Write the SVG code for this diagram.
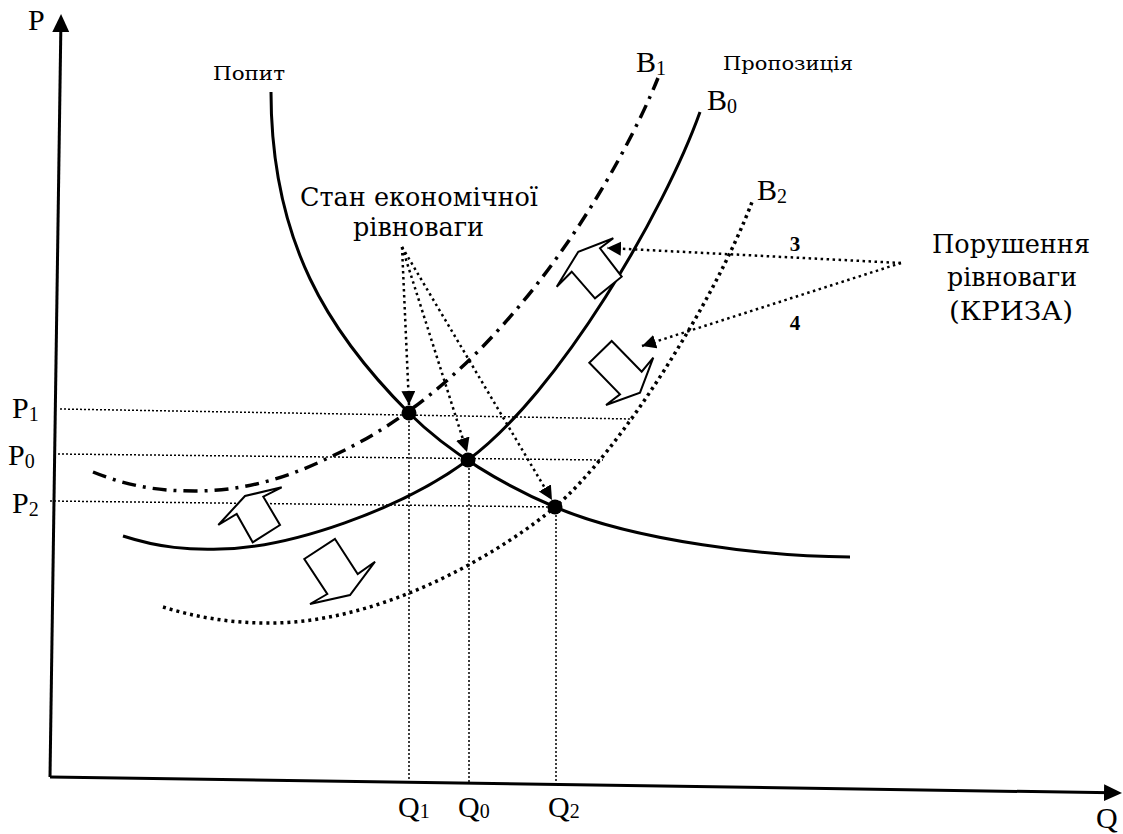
<svg xmlns="http://www.w3.org/2000/svg" width="1123" height="834" viewBox="0 0 1123 834">
<style>
text{font-family:"Liberation Serif","Times New Roman",serif;fill:#000}
.cyr{font-family:"DejaVu Serif","Liberation Serif",serif}
.big{font-size:30px}
.cbig{font-size:26px}
.lbl{font-size:19px}
.sub{font-size:20px}
.num{font-size:21px;font-weight:bold}
.axis{stroke:#000;stroke-width:3;fill:none}
.guide{stroke:#000;stroke-width:1.5;stroke-dasharray:2 2;fill:none}
.ann{stroke:#000;stroke-width:2.5;stroke-dasharray:2.5 3.5;fill:none}
.solid{stroke:#000;stroke-width:3;fill:none}
.dashdot{stroke:#000;stroke-width:3.5;stroke-dasharray:14 7 3 7;fill:none}
.dotted{stroke:#000;stroke-width:3.5;stroke-dasharray:3 4;fill:none}
.block{fill:#fff;stroke:#000;stroke-width:2;stroke-linejoin:miter}
.dot{fill:#000}
</style>
<defs>
<marker id="ah" markerWidth="15" markerHeight="15" refX="14" refY="7" orient="auto" markerUnits="userSpaceOnUse"><path d="M0,0 L14,7 L0,14 z" fill="#000"/></marker>
<marker id="axh" markerWidth="20" markerHeight="18" refX="8" refY="8.5" orient="auto" markerUnits="userSpaceOnUse"><path d="M0,0 L18,8.5 L0,17 z" fill="#000"/></marker>
</defs>
<rect width="1123" height="834" fill="#fff"/>

<g id="axes">
<line class="axis" x1="50" y1="777" x2="60.9" y2="24" marker-end="url(#axh)"/>
<line class="axis" x1="50" y1="777" x2="1112" y2="792.8" marker-end="url(#axh)"/>
<text class="big" x="28" y="30">P</text>
<text class="big" x="1096" y="828">Q</text>
</g>

<g id="guides">
<line class="guide" x1="60" y1="409" x2="633" y2="419"/>
<line class="guide" x1="58" y1="454" x2="603" y2="460"/>
<line class="guide" x1="50" y1="501" x2="555" y2="507"/>
<line class="guide" x1="409" y1="413" x2="409" y2="781"/>
<line class="guide" x1="469" y1="460" x2="469" y2="783"/>
<line class="guide" x1="556" y1="507" x2="556" y2="783"/>
</g>

<g id="axis-labels">
<text class="big" x="12" y="418">P<tspan class="sub" dy="3">1</tspan></text>
<text class="big" x="8" y="465">P<tspan class="sub" dy="3">0</tspan></text>
<text class="big" x="12" y="513">P<tspan class="sub" dy="3">2</tspan></text>
<text class="big" x="398" y="817">Q<tspan class="sub" dy="1">1</tspan></text>
<text class="big" x="458" y="817">Q<tspan class="sub" dy="1">0</tspan></text>
<text class="big" x="548" y="817">Q<tspan class="sub" dy="1">2</tspan></text>
</g>

<g id="demand">
<path class="solid" d="M271,92 C271,242 329,333 409,413 C449,453 505,486 555,507 C635,541 770,557 850,557"/>
<text class="cyr lbl" x="213" y="80" textLength="72" lengthAdjust="spacingAndGlyphs">Попит</text>
</g>

<g id="supply-B0">
<path class="solid" d="M123,536 C160,548 190,550 220,549 C290,548 400,510 468,460 C560,392 665,210 700,112"/>
<text class="big" x="707" y="110">B<tspan class="sub" dy="3">0</tspan></text>
</g>

<g id="supply-B1">
<path class="dashdot" d="M93,472 C130,487 160,491 195,491 C245,491 290,477 330,457 C510,377 625,160 658,78"/>
<text class="big" x="636" y="72">B<tspan class="sub" dy="3">1</tspan></text>
</g>

<g id="supply-B2">
<path class="dotted" d="M163,607 C195,617 230,623 267,623 C390,624 513,543 555,507 C620,452 715,300 752,202"/>
<text class="big" x="757" y="200">B<tspan class="sub" dy="3">2</tspan></text>
</g>

<g id="supply-label">
<text class="cyr lbl" x="723" y="70" textLength="130" lengthAdjust="spacingAndGlyphs">Пропозиція</text>
</g>

<g id="shift-arrows">
<polygon class="block" points="613.3,238.3 600,248.3 621.7,276.7 595,298.3 571.7,271.7 556.7,286.7 578.3,251.7"/>
<polygon class="block" points="611.7,341 641.7,371.7 653.3,357.7 640,392.7 606,405 620,394.3 589.3,362.7"/>
<polygon class="block" points="281.7,487.3 263.3,496.7 280,525 252.7,542.3 236.7,514 218.3,525 245,496"/>
<polygon class="block" points="335,539 357.7,574 375,561.7 350,595 310,604 327.3,594 304.3,559"/>
</g>

<g id="connectors">
<line class="ann" x1="402" y1="247" x2="409" y2="405" marker-end="url(#ah)"/>
<line class="ann" x1="402" y1="247" x2="467" y2="452" marker-end="url(#ah)"/>
<line class="ann" x1="402" y1="247" x2="552" y2="500" marker-end="url(#ah)"/>
<line class="ann" x1="901" y1="263" x2="607" y2="248" marker-end="url(#ah)"/>
<line class="ann" x1="901" y1="263" x2="642" y2="346" marker-end="url(#ah)"/>
<text class="num" x="795" y="251" text-anchor="middle">3</text>
<text class="num" x="795" y="330" text-anchor="middle">4</text>
</g>

<g id="equilibrium-points">
<circle class="dot" cx="409" cy="413" r="7.5"/>
<circle class="dot" cx="468" cy="460" r="7.5"/>
<circle class="dot" cx="555" cy="507" r="7.5"/>
</g>

<g id="label-equilibrium">
<text class="cyr cbig" x="300" y="206" textLength="238" lengthAdjust="spacingAndGlyphs">Стан економічної</text>
<text class="cyr cbig" x="353" y="236" textLength="131" lengthAdjust="spacingAndGlyphs">рівноваги</text>
</g>

<g id="label-crisis">
<text class="cyr cbig" x="932" y="253" textLength="158" lengthAdjust="spacingAndGlyphs">Порушення</text>
<text class="cyr cbig" x="947" y="286" textLength="130" lengthAdjust="spacingAndGlyphs">рівноваги</text>
<text class="cyr cbig" x="949" y="320" textLength="124" lengthAdjust="spacingAndGlyphs">(КРИЗА)</text>
</g>
</svg>
